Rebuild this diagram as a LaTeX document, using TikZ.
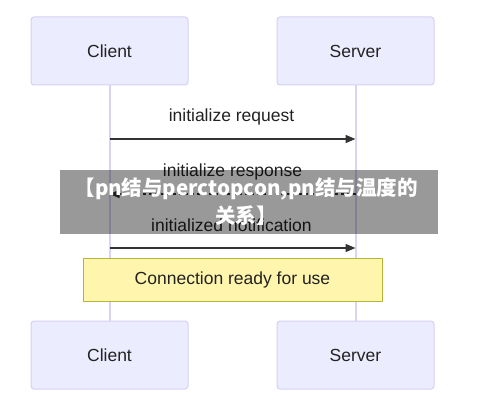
\documentclass[tikz,border=0pt]{standalone}
\usepackage{fontspec}
\setmainfont{Liberation Sans}
\newfontfamily\cjk{Noto Sans CJK SC}
\usetikzlibrary{arrows.meta}
\definecolor{actfill}{HTML}{ECECFF}
\definecolor{actdraw}{HTML}{D6D0F5}
\definecolor{lifel}{HTML}{D9D4F5}
\definecolor{notefill}{HTML}{FFF5AD}
\definecolor{notedraw}{HTML}{B5B53A}
\definecolor{txt}{HTML}{222222}
\definecolor{arr}{HTML}{333333}
\begin{document}
\begin{tikzpicture}[x=1pt,y=-1pt,
  actor/.style={draw=actdraw, fill=actfill, line width=1pt, rounded corners=3pt,
    minimum width=157pt, minimum height=68pt, inner sep=0pt,
    font=\fontsize{17.5}{20}\selectfont, text=txt},
  lifeline/.style={draw=lifel, line width=2pt},
  msg/.style={draw=arr, line width=1.5pt, -{Triangle[length=10pt,width=8pt]}},
  dmsg/.style={msg, dash pattern=on 3pt off 3pt},
  lbl/.style={font=\fontsize{17.5}{20}\selectfont, text=txt, inner sep=0pt},
  notebox/.style={draw=notedraw, fill=notefill, line width=1pt,
    minimum width=299pt, minimum height=43pt, inner sep=0pt,
    font=\fontsize{17.5}{20}\selectfont, text=txt},
  banner/.style={fill=black, fill opacity=0.4, draw=none, minimum width=378pt,
    minimum height=64pt, inner sep=0pt},
  bannertext/.style={text=white, align=center, inner sep=0pt,
    font=\cjk\bfseries\fontsize{20.5}{28}\selectfont}
]
\useasboundingbox (0,0) rectangle (500,406);
% actors
\node[actor] (ct) at (109.5,51) {Client};
\node[actor] (st) at (355.5,51) {Server};
\node[actor] (cb) at (109.5,355) {Client};
\node[actor] (sb) at (355.5,355) {Server};
% lifelines
\draw[lifeline] (ct.south) -- (cb.north);
\draw[lifeline] (st.south) -- (sb.north);
% message points
\coordinate (c1) at (109.5,139);
\coordinate (s1) at (355.5,139);
\coordinate (c2) at (109.5,194);
\coordinate (s2) at (355.5,194);
\coordinate (c3) at (109.5,248);
\coordinate (s3) at (355.5,248);
\node[lbl] (l1) at (231.5,117) {initialize request};
\draw[msg] (c1) -- (s1);
\node[lbl] (l2) at (232.5,172) {initialize response};
\draw[dmsg] (s2) -- (c2);
\node[lbl] (l3) at (231.5,225) {initialized notification};
\draw[msg] (c3) -- (s3);
% note
\node[notebox] (note) at (232.5,279.5) {Connection ready for use};
% overlay banner
\node[banner] (ban) at (249,202) {};
\node[bannertext] (bt) at (246,202) {【pn结与perctopcon,pn结与温度的\\关系】};
\end{tikzpicture}
\end{document}
